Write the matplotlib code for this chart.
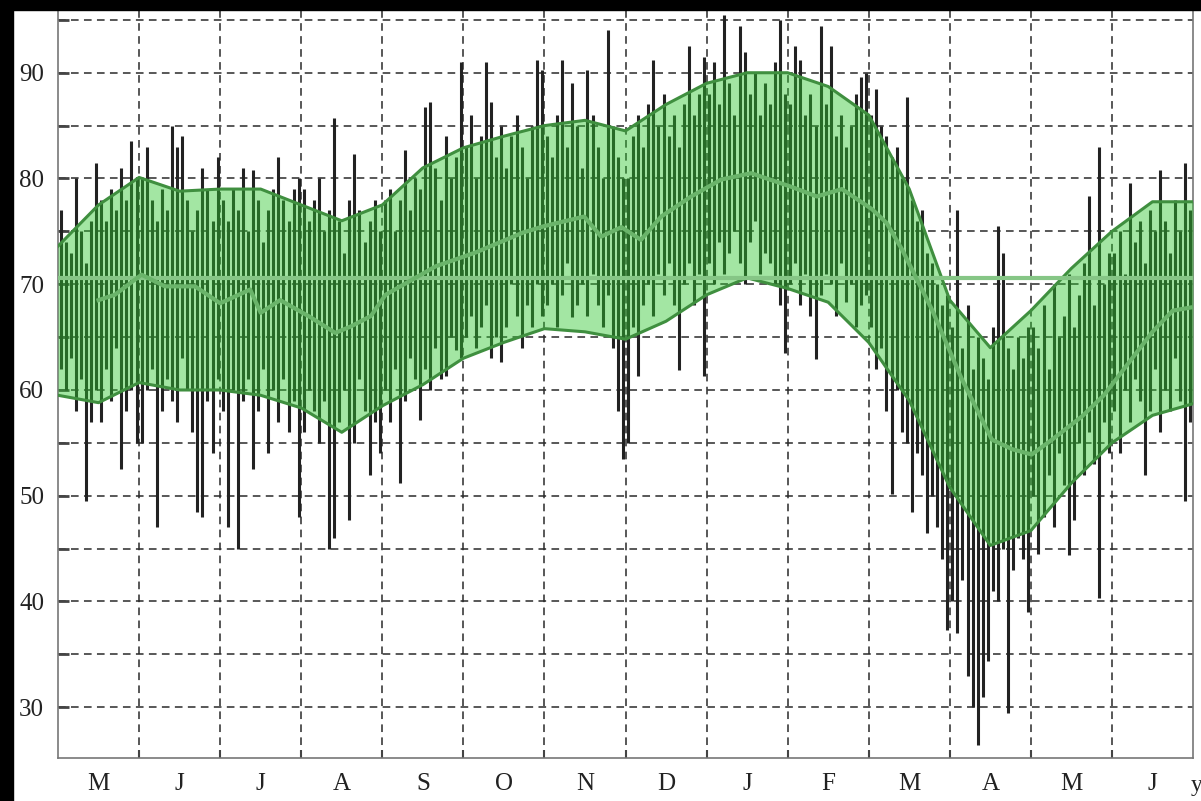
import numpy as np
import matplotlib.pyplot as plt
from matplotlib.patches import Rectangle

# month labels (x axis runs 0..14, one unit per month)
months = ["M", "J", "J", "A", "S", "O", "N", "D", "J", "F", "M", "A", "M", "J"]

# daily high / low bars, 16 per month
highs = [
    [77, 74, 73, 80, 75, 72, 76, 81.5, 78, 76, 79, 77, 81, 78, 83.5, 80],
    [80, 83, 78, 76, 79, 77, 85, 83, 84, 78, 75, 77, 81, 79, 76, 82],
    [78, 76, 79, 77, 81, 75, 80.8, 78, 74, 77, 79, 82, 78, 76, 79, 80],
    [79, 76, 78, 80, 75, 77, 85.7, 76, 73, 78, 82.3, 77, 74, 76, 78, 75],
    [78, 79, 75, 78, 82.7, 77, 80, 79, 86.8, 87.2, 81, 78, 84, 80, 82, 91],
    [83, 86, 80, 84, 91, 87.2, 82, 85, 81, 84, 86, 83, 80, 85, 91.2, 90.3],
    [84, 82, 86, 91.2, 83, 89, 85, 81, 90.3, 86, 83, 80, 94, 85, 82, 80],
    [80, 84, 86, 83, 87, 91.2, 85, 88, 84, 86, 83, 87, 92.5, 86, 88, 91.5],
    [88, 91, 87, 95.5, 89, 86, 94.4, 92, 88, 90, 86, 89, 87, 91, 95, 88],
    [87, 92.5, 91.2, 86, 88, 85, 94.4, 87, 92.5, 84, 86, 83, 85, 88, 89.6, 90],
    [86, 88.5, 85, 84, 82, 83, 80, 87.7, 78, 76, 77, 73, 72, 70, 68, 69],
    [66, 77, 64, 68, 62, 65, 63, 61, 66, 75.5, 73, 64, 62, 65, 63, 66],
    [66, 64, 68, 62, 70, 65, 67, 71, 66, 69, 72, 78.3, 68, 83, 70, 73],
    [73, 75, 71, 79.6, 74, 76, 72, 77, 75, 80.8, 76, 73, 78, 75, 81.5, 77],
]
lows = [
    [62, 60, 63, 58, 61, 49.5, 57, 60, 57, 62, 59, 64, 52.5, 58, 60, 55],
    [55, 60, 62, 47, 58, 61, 59, 57, 63, 60, 56, 48.5, 48, 59, 54, 61],
    [58, 47, 60, 45, 59, 61, 52.5, 58, 62, 54, 60, 57, 61, 56, 59, 48],
    [56, 60, 58, 55, 59, 45, 46, 57, 60, 47.7, 55, 61, 58, 52, 57, 54],
    [60, 57, 62, 51.2, 59, 63, 61, 57.2, 62, 60, 64, 61, 61.3, 65, 63.8, 63],
    [65, 67, 64, 66, 68, 63, 65, 62.6, 66, 70, 67, 64, 68, 66, 70, 67],
    [68, 70, 66, 69, 72, 66.9, 68, 70, 67, 71, 68, 66, 69, 64, 58, 53.5],
    [55, 66, 61.3, 68, 70, 67, 71, 69, 72, 68, 61.9, 70, 72, 68, 71, 61.3],
    [72, 70, 74, 71, 73, 75, 72, 70, 74, 76, 71, 73, 72, 70, 68, 63.5],
    [70, 72, 68, 71, 67, 62.9, 69, 71, 70, 67, 72, 68.3, 70, 66, 68, 69],
    [66, 62, 64, 58, 50.2, 60, 56, 55, 48.5, 54, 52, 46.5, 50, 47, 44, 37.3],
    [40, 37, 42, 33, 30, 26.4, 31, 34.4, 41, 40, 45, 29.5, 43, 46, 44, 39],
    [50, 44.5, 48, 52, 47, 54, 51, 44.4, 47.7, 55, 52, 56, 53, 40.3, 57, 54],
    [58, 54, 60, 57, 61, 59, 52, 58, 62, 56, 60, 58, 63, 59, 49.5, 57],
]

# envelope, sampled every half month
band_x = [0, 0.5, 1, 1.5, 2, 2.5, 3, 3.5, 4, 4.5, 5, 5.5, 6, 6.5, 7,
          7.5, 8, 8.5, 9, 9.5, 10, 10.5, 11, 11.5, 12, 12.5, 13, 13.5, 14]
upper = [73.6, 77.5, 80.1, 78.8, 79.0, 79.0, 77.5, 76.0, 77.5, 81.0, 82.9, 84.0, 85.0, 85.5, 84.5,
         87.0, 89.0, 90.0, 90.0, 88.7, 86.0, 79.0, 68.5, 64.0, 67.5, 71.5, 75.0, 77.8, 77.8]
lower = [59.5, 58.8, 60.7, 60.0, 60.0, 59.5, 58.3, 56.0, 58.5, 60.5, 63.0, 64.5, 65.8, 65.5, 64.8,
         66.5, 69.0, 70.6, 69.6, 68.3, 64.5, 59.0, 50.8, 45.3, 46.7, 51.2, 55.0, 57.6, 58.7]

# moving average
mid_x = [0.5, 0.7, 1.03, 1.32, 1.69, 2.0, 2.37, 2.5, 2.74, 3.11, 3.42, 3.61, 3.86, 4.04, 4.66,
         5.15, 5.74, 6.0, 6.49, 6.7, 6.95, 7.19, 7.44, 7.81, 8.18, 8.55, 9.05, 9.36, 9.67, 10.04,
         10.22, 10.41, 10.78, 11.15, 11.52, 11.77, 12.01, 12.26, 12.63, 12.9, 13.2, 13.5, 13.75, 13.97]
mid_y = [68.5, 69.0, 70.9, 69.8, 69.8, 68.2, 69.5, 67.3, 68.5, 66.9, 65.4, 66.0, 67.0, 69.0, 71.7,
         73.0, 74.9, 75.5, 76.4, 74.5, 75.4, 74.2, 76.4, 78.3, 79.9, 80.5, 79.2, 78.3, 79.0, 77.1,
         75.8, 73.3, 67.6, 61.0, 55.3, 54.4, 53.9, 55.3, 57.5, 59.5, 62.5, 65.5, 67.5, 67.8]

level = 70.6

fig = plt.figure(figsize=(12.01, 8.01), dpi=100)
ax = fig.add_axes([58 / 1201, 43 / 801, 1135 / 1201, 754 / 801])

# bars
for m in range(len(months)):
    n = len(highs[m])
    xs = m + (np.arange(n) + 0.5) / n
    ax.vlines(xs, lows[m], highs[m], color="#222222", lw=2.2, zorder=2)

# envelope on top so the bars turn dark green inside it
ax.fill_between(band_x, lower, upper, color=(0.18, 0.78, 0.18), alpha=0.44, lw=0, zorder=3)
ax.plot(band_x, upper, color="#3f8f3f", lw=2.2, zorder=4)
ax.plot(band_x, lower, color="#3f8f3f", lw=2.2, zorder=4)
ax.axhline(level, color="#86c686", lw=3, zorder=4)
ax.plot(mid_x, mid_y, color="#6ab46a", lw=3, zorder=5)

ax.set_xlim(0, 14)
ax.set_ylim(25.2, 96.5)
ax.set_yticks(range(30, 91, 10))
ax.set_yticks(range(35, 96, 10), minor=True)
ax.set_xticks(range(1, 14))
ax.set_xticklabels([])
ax.set_xticks(np.arange(len(months)) + 0.5, minor=True)
ax.set_xticklabels(months, minor=True)

ax.grid(True, which="both", axis="y", color="#2a2a2a", lw=1.1, linestyle=(0, (5, 3.5)))
ax.grid(True, which="major", axis="x", color="#2a2a2a", lw=1.1, linestyle=(0, (5, 3.5)))

ax.tick_params(axis="y", which="both", direction="in", length=8, width=2, color="#444",
               labelsize=18, pad=10)
ax.tick_params(axis="x", which="major", direction="in", length=6, width=1.5, color="#444")
ax.tick_params(axis="x", which="minor", length=0, labelsize=18, pad=11)
for lab in ax.get_xticklabels(minor=True) + ax.get_yticklabels():
    lab.set_family("Liberation Serif")
    lab.set_color("#222")

for s in ax.spines.values():
    s.set_color("#777")
    s.set_linewidth(1.2)

fig.text(1191 / 1201, 10 / 801, "y", family="Liberation Serif", fontsize=17, color="#222")

# black scan border on the top and left
fig.patches.append(Rectangle((0, 791 / 801), 1, 10 / 801, transform=fig.transFigure,
                             color="black", zorder=10))
fig.patches.append(Rectangle((0, 0), 13 / 1201, 1, transform=fig.transFigure,
                             color="black", zorder=10))

fig.savefig("out.png", dpi=100)
